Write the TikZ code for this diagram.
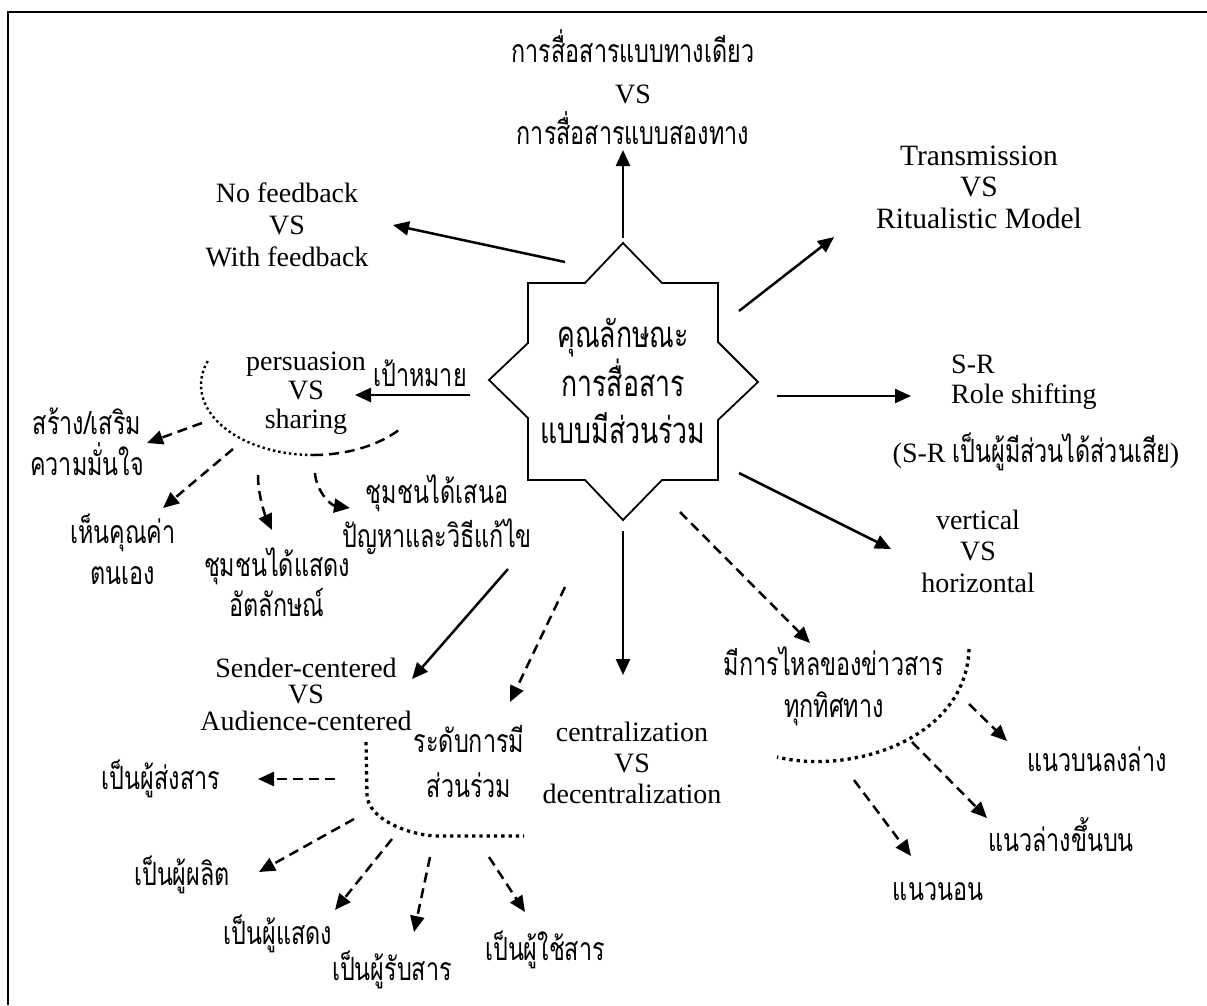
\documentclass[tikz,border=0pt]{standalone}
\usepackage{fontspec}
\setmainfont{Liberation Serif}
\newfontfamily\thaifont[Script=Thai,FakeStretch=0.73]{Loma}
\newcommand\latinpart[1]{{\fontsize{28}{28}\selectfont\rmfamily #1}}
\usetikzlibrary{arrows.meta}
\begin{document}
\begin{tikzpicture}[x=1pt,y=-1pt,
  lat/.style={align=center,inner sep=0pt,font=\fontsize{28}{32}\selectfont},
  th/.style={align=center,inner sep=0pt,font=\fontsize{32}{42}\selectfont\thaifont},
  arr/.style={line width=2.5pt,-{Triangle[length=16pt,width=14pt]}},
  darr/.style={arr,dash pattern=on 10pt off 6pt},
  thindot/.style={line width=2.4pt,dash pattern=on 2.4pt off 3pt},
  thickdot/.style={line width=3.3pt,dash pattern=on 3.3pt off 4pt},
  thindash/.style={line width=2.5pt,dash pattern=on 10pt off 6pt}]
\useasboundingbox (0,0) rectangle (1207,1005);

% page frame (left and top edges only)
\draw[line width=2pt] (8,1005) -- (8,12) -- (1207,12);

% central seal
\draw[line width=1.8pt,line join=miter]
  (623,243) -- (662,283) -- (718,283) -- (718,342) -- (758,382) -- (718,420)
  -- (718,480) -- (662,480) -- (623,520) -- (585,480) -- (528,480) -- (528,418)
  -- (489,380) -- (528,343) -- (528,283) -- (585,283) -- cycle;
\node[th,font=\fontsize{36.5}{47}\selectfont\thaifont] (core) at (623,381)
  {คุณลักษณะ\\การสื่อสาร\\แบบมีส่วนร่วม};

% surrounding labels
\node[th,font=\fontsize{32}{41}\selectfont\thaifont] (oneway) at (633,87)
  {การสื่อสารแบบทางเดียว\\\latinpart{VS}\\การสื่อสารแบบสองทาง};
\node[lat] (feedback) at (287,225) {No feedback\\VS\\With feedback};
\node[lat,font=\fontsize{29.5}{31.5}\selectfont] (trans) at (979,187)
  {Transmission\\VS\\Ritualistic Model};
\node[lat,align=left,font=\fontsize{28}{30}\selectfont,anchor=west] (sr) at (951,382)
  {S-R\\Role shifting};
\node[lat] (srnote) at (1036,452)
  {(S-R {\fontsize{32}{32}\selectfont\thaifont เป็นผู้มีส่วนได้ส่วนเสีย})};
\node[lat,font=\fontsize{28}{31.5}\selectfont] (vert) at (978,551)
  {vertical\\VS\\horizontal};
\node[lat,font=\fontsize{28}{29}\selectfont] (persu) at (306,393)
  {persuasion\\VS\\sharing};
\node[th] (goal) at (420,373) {เป้าหมาย};
\node[th,font=\fontsize{32}{41}\selectfont\thaifont] (confid) at (87,442)
  {สร้าง/เสริม\\ความมั่นใจ};
\node[th,font=\fontsize{32}{41}\selectfont\thaifont] (worth) at (123,549)
  {เห็นคุณค่า\\ตนเอง};
\node[th,font=\fontsize{32}{40}\selectfont\thaifont] (ident) at (277,582)
  {ชุมชนได้แสดง\\อัตลักษณ์};
\node[th,font=\fontsize{32}{44}\selectfont\thaifont] (propose) at (437,515)
  {ชุมชนได้เสนอ\\ปัญหาและวิธีแก้ไข};
\node[lat,font=\fontsize{28}{26.5}\selectfont] (sendaud) at (306,694)
  {Sender-centered\\VS\\Audience-centered};
\node[th,font=\fontsize{32}{45}\selectfont\thaifont] (level) at (469,762)
  {ระดับการมี\\ส่วนร่วม};
\node[lat,font=\fontsize{28}{31}\selectfont] (central) at (632,763)
  {centralization\\VS\\decentralization};
\node[th] (flow) at (834,686) {มีการไหลของข่าวสาร\\ทุกทิศทาง};
\node[th] (topdown) at (1097,759) {แนวบนลงล่าง};
\node[th] (bottomup) at (1061,835) {แนวล่างขึ้นบน};
\node[th] (horiz) at (938,892) {แนวนอน};
\node[th] (sender) at (161,779) {เป็นผู้ส่งสาร};
\node[th] (producer) at (182,875) {เป็นผู้ผลิต};
\node[th] (performer) at (278,934) {เป็นผู้แสดง};
\node[th] (receiver) at (392,970) {เป็นผู้รับสาร};
\node[th] (user) at (545,950) {เป็นผู้ใช้สาร};

% connector end points
\coordinate (upS) at (623,238);   \coordinate (upE) at (623,150);
\coordinate (fbS) at (565,262);   \coordinate (fbE) at (393,225);
\coordinate (trS) at (739,311);   \coordinate (trE) at (834,237);
\coordinate (srS) at (777,396);   \coordinate (srE) at (911,396);
\coordinate (vtS) at (739,473);   \coordinate (vtE) at (891,549);
\coordinate (glS) at (470,395);   \coordinate (glE) at (355,395);
\coordinate (saS) at (508,569);   \coordinate (saE) at (412,679);
\coordinate (lvS) at (565,587);   \coordinate (lvE) at (510,702);
\coordinate (ceS) at (623,531);   \coordinate (ceE) at (623,675);
\coordinate (flS) at (680,512);   \coordinate (flE) at (810,643);

% arrows leaving the seal
\draw[arr] (upS) -- (upE);
\draw[arr] (fbS) -- (fbE);
\draw[arr] (trS) -- (trE);
\draw[arr] (srS) -- (srE);
\draw[arr] (vtS) -- (vtE);
\draw[arr] (glS) -- (glE);
\draw[arr] (saS) -- (saE);
\draw[darr] (lvS) -- (lvE);
\draw[arr] (ceS) -- (ceE);
\draw[darr] (flS) -- (flE);

% goal branch
\draw[thindot] plot[domain=200:90,samples=40,smooth] ({313+112*cos(\x)},{385+70*sin(\x)});
\draw[thindash] plot[domain=90:37,samples=20,smooth] ({313+112*cos(\x)},{385+70*sin(\x)});
\coordinate (c1S) at (202,423); \coordinate (c1E) at (147,443);
\coordinate (c2S) at (233,449); \coordinate (c2E) at (163,508);
\coordinate (c3S) at (258,475); \coordinate (c3E) at (272,530);
\coordinate (c4S) at (315,473); \coordinate (c4E) at (350,508);
\draw[darr] (c1S) -- (c1E);
\draw[darr] (c2S) -- (c2E);
\draw[darr] (c3S) .. controls (258,495) and (265,515) .. (c3E);
\draw[darr] (c4S) .. controls (316,490) and (330,505) .. (c4E);

% participation level branch
\draw[thickdot] (366,742) -- (367,795) .. controls (368,818) and (405,834) .. (435,836) -- (524,836);
\coordinate (p1S) at (335,779); \coordinate (p1E) at (258,779);
\coordinate (p2S) at (354,819); \coordinate (p2E) at (259,872);
\coordinate (p3S) at (392,839); \coordinate (p3E) at (335,910);
\coordinate (p4S) at (430,857); \coordinate (p4E) at (414,932);
\coordinate (p5S) at (489,857); \coordinate (p5E) at (525,912);
\draw[darr] (p1S) -- (p1E);
\draw[darr] (p2S) -- (p2E);
\draw[darr] (p3S) -- (p3E);
\draw[darr] (p4S) -- (p4E);
\draw[darr] (p5S) -- (p5E);

% information flow branch
\draw[thickdot] (969,649) .. controls (966,740) and (850,775) .. (777,757);
\coordinate (f1S) at (969,704); \coordinate (f1E) at (1007,741);
\coordinate (f2S) at (912,742); \coordinate (f2E) at (987,818);
\coordinate (f3S) at (854,780); \coordinate (f3E) at (911,856);
\draw[darr] (f1S) -- (f1E);
\draw[darr] (f2S) -- (f2E);
\draw[darr] (f3S) -- (f3E);
\end{tikzpicture}
\end{document}
